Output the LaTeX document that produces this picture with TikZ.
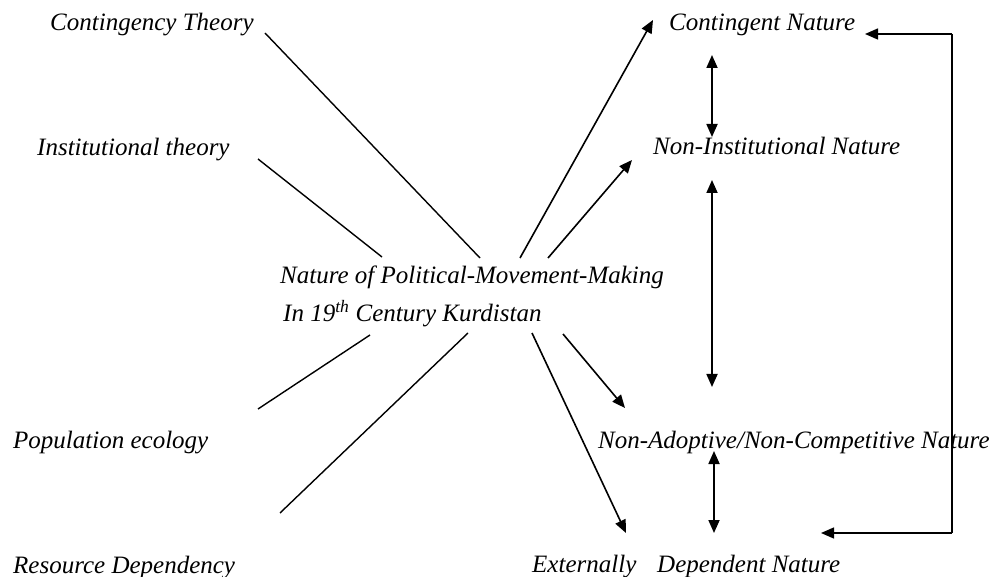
\documentclass[tikz,border=0pt]{standalone}
\usepackage{fontspec}
\setmainfont{Liberation Serif}
\usetikzlibrary{arrows.meta}
\begin{document}
\begin{tikzpicture}[x=1pt,y=-1pt,
  lbl/.style={anchor=base west,inner sep=0pt,font=\fontsize{25}{30}\selectfont\itshape},
  plain/.style={line width=1.4pt},
  arr/.style={line width=1.6pt,-{Triangle[length=13pt,width=11pt]}},
  darr/.style={line width=1.8pt,{Triangle[length=13pt,width=11pt]}-{Triangle[length=13pt,width=11pt]}}]
\useasboundingbox (0,0) rectangle (994,577);
% texts
\node[lbl] (ct) at (50,31) {Contingency Theory};
\node[lbl] (it) at (37,156) {Institutional theory};
\node[lbl] (pe) at (13,448) {Population ecology};
\node[lbl] (rd) at (13,573) {Resource Dependency};
\node[lbl] (c1) at (280,284) {Nature of Political-Movement-Making};
\node[lbl] (c2) at (283,322) {In 19\textsuperscript{th} Century Kurdistan};
\node[lbl] (cn) at (669,31) {Contingent Nature};
\node[lbl] (ni) at (653,155) {Non-Institutional Nature};
\node[lbl] (na) at (598,448) {Non-Adoptive/Non-Competitive Nature};
\node[lbl] (ex) at (532,572) {Externally};
\node[lbl] (dn) at (657,572) {Dependent Nature};
% connector end points
\coordinate (ctA) at (265,33);  \coordinate (ctB) at (480,258);
\coordinate (itA) at (258,159); \coordinate (itB) at (382,257);
\coordinate (peA) at (258,409); \coordinate (peB) at (370,335);
\coordinate (rdA) at (280,513); \coordinate (rdB) at (468,333);
\coordinate (o1) at (520,258); \coordinate (t1) at (653,20);
\coordinate (o2) at (548,258); \coordinate (t2) at (632,160);
\coordinate (o3) at (563,334); \coordinate (t3) at (625,408);
\coordinate (o4) at (532,333); \coordinate (t4) at (626,533);
\coordinate (d1a) at (712,55);  \coordinate (d1b) at (712,137);
\coordinate (d2a) at (712,180); \coordinate (d2b) at (712,387);
\coordinate (d3a) at (714,451); \coordinate (d3b) at (714,533);
\coordinate (fbT) at (952,34); \coordinate (fbB) at (952,533);
\coordinate (fbTe) at (865,34); \coordinate (fbBe) at (821,533);
% lines
\draw[plain] (ctA) -- (ctB);
\draw[plain] (itA) -- (itB);
\draw[plain] (peA) -- (peB);
\draw[plain] (rdA) -- (rdB);
\draw[arr] (o1) -- (t1);
\draw[arr] (o2) -- (t2);
\draw[arr] (o3) -- (t3);
\draw[arr] (o4) -- (t4);
\draw[darr] (d1a) -- (d1b);
\draw[darr] (d2a) -- (d2b);
\draw[darr] (d3a) -- (d3b);
\draw[plain] (fbT) -- (fbB);
\draw[arr,line width=1.4pt] (fbT) -- (fbTe);
\draw[arr,line width=1.4pt] (fbB) -- (fbBe);
\end{tikzpicture}
\end{document}
